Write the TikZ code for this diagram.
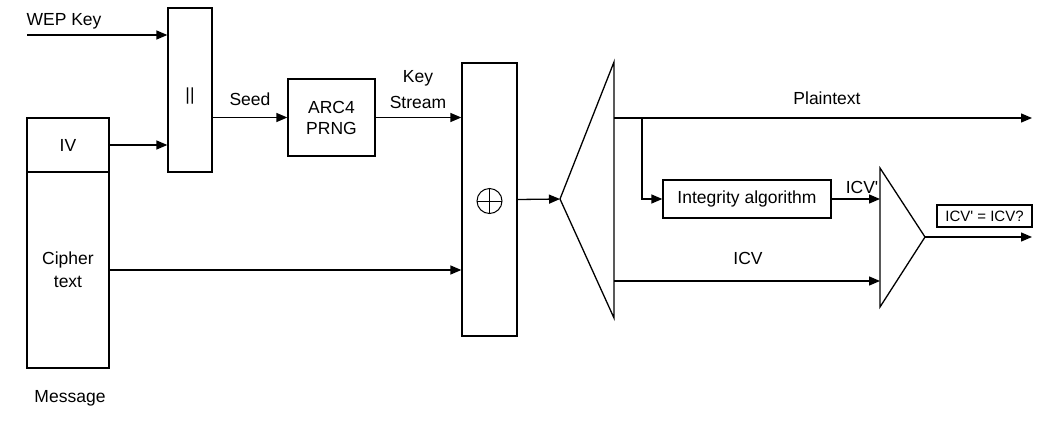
\documentclass[tikz,border=0pt]{standalone}
\usepackage{fontspec}
\newfontfamily\diagfont{Liberation Sans}
\usetikzlibrary{arrows.meta,calc}
\begin{document}
\begin{tikzpicture}[x=1pt,y=-1pt,
  line width=1.3pt,
  font=\diagfont\fontsize{17.5}{21}\selectfont,
  box/.style={draw,rectangle,inner sep=0pt,align=center},
  lbl/.style={inner sep=0pt,align=center},
  arr/.style={-{Triangle[length=11pt,width=9pt]}},
]
\useasboundingbox (0,0) rectangle (1041,424);
% boxes
\node[box,minimum width=44pt,minimum height=164pt] (cat) at (190,90) {};
\node[lbl] at (190,96) {||};
\node[box,minimum width=82pt,minimum height=54pt] (iv) at (68,145) {IV};
\node[box,minimum width=82pt,minimum height=196pt] (cipher) at (68,270) {Cipher\\[2pt]text};
\node[box,minimum width=87pt,minimum height=77pt] (arc) at (331.5,117.5) {ARC4\\PRNG};
\node[box,minimum width=55pt,minimum height=273pt] (xor) at (489.5,199.5) {};
\draw[line width=1pt] (489.5,201) circle (12.5pt);
\draw[line width=1pt] (477,201) -- (502,201) (489.5,188.5) -- (489.5,213.5);
\node[box,minimum width=168pt,minimum height=38pt] (integ) at (747,199) {Integrity algorithm};
\node[box,minimum width=95pt,minimum height=22pt,font=\diagfont\fontsize{15}{18}\selectfont] (check) at (984.5,216) {ICV' = ICV?};
% triangles
\coordinate (dtip) at (560,199);
\coordinate (dtop) at (614,62);
\coordinate (dbot) at (614,318);
\draw (dtip) -- (dtop) -- (dbot) -- cycle;
\coordinate (ctop) at (880,168);
\coordinate (cbot) at (880,307);
\coordinate (ctip) at (925,237);
\draw (ctop) -- (cbot) -- (ctip) -- cycle;
% free ends
\coordinate (wep) at (27,35);
\coordinate (pstart) at (614,118);
\coordinate (pend) at (1032,118);
\coordinate (branch) at (642,118);
\coordinate (icvstart) at (614,281);
\coordinate (icvend) at (880,281);
\coordinate (outend) at (1032,237);
% connectors
\draw[arr] (wep) -- (wep -| cat.west);
\draw[arr] (iv.east) -- (iv.east -| cat.west);
\draw[arr] (arc.west -| cat.east) -- (arc.west);
\draw[arr] (arc.east) -- (arc.east -| xor.west);
\draw[arr] (cipher.east) -- (cipher.east -| xor.west);
\draw[arr] (xor.east) -- (dtip);
\draw[arr] (pstart) -- (pend);
\draw[arr] (branch) |- (integ.west);
\draw[arr] (integ.east) -- (integ.east -| ctop);
\draw[arr] (icvstart) -- (icvend);
\draw[arr] (ctip) -- (outend);
% labels
\node[lbl] at (64,21) {WEP Key};
\node[lbl] at (250,99) {Seed};
\node[lbl] at (418,90) {Key\\[5pt]Stream};
\node[lbl] at (827,98) {Plaintext};
\node[lbl] at (862,187) {ICV'};
\node[lbl] at (748,258) {ICV};
\node[lbl] at (70,398) {Message};
\end{tikzpicture}
\end{document}
